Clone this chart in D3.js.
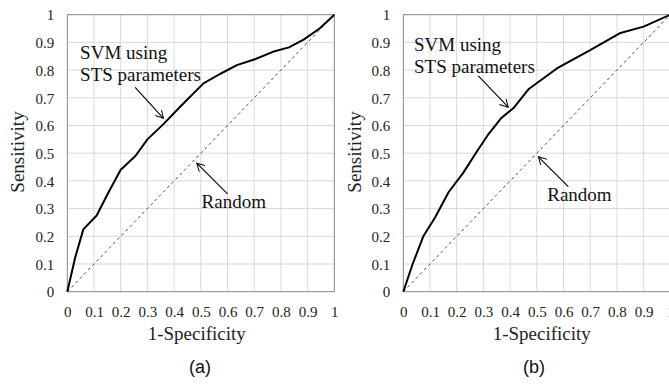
<!DOCTYPE html>
<html>
<head>
<meta charset="utf-8">
<script src="https://cdn.jsdelivr.net/npm/d3@7"></script>
<style>
  body { margin: 0; background: #fff; }
  svg { display: block; }
  .serif { font-family: "Liberation Serif", "DejaVu Serif", "Times New Roman", serif; }
</style>
</head>
<body>
<svg width="669" height="384"></svg>
<script>
// tick values (both axes)
const ticks = [0, 0.1, 0.2, 0.3, 0.4, 0.5, 0.6, 0.7, 0.8, 0.9, 1];

// ROC curve, panel (a): [1-specificity, sensitivity]
const rocA = [
  [0, 0], [0.03, 0.125], [0.06, 0.225], [0.11, 0.275], [0.155, 0.36],
  [0.2, 0.44], [0.255, 0.49], [0.3, 0.55], [0.36, 0.605], [0.43, 0.675],
  [0.51, 0.752], [0.57, 0.785], [0.635, 0.818], [0.7, 0.838], [0.77, 0.866],
  [0.83, 0.882], [0.885, 0.91], [0.945, 0.95], [1, 1]
];

// ROC curve, panel (b)
const rocB = [
  [0, 0], [0.035, 0.1], [0.075, 0.2], [0.12, 0.27], [0.17, 0.36],
  [0.225, 0.43], [0.275, 0.505], [0.32, 0.57], [0.365, 0.625], [0.415, 0.665],
  [0.47, 0.732], [0.575, 0.806], [0.7, 0.872], [0.81, 0.933], [0.9, 0.957],
  [1, 1]
];

// random classifier
const randomLine = [[0, 0], [1, 1]];

const svg = d3.select("svg");

// arrow head (open V)
svg.append("defs").append("marker")
  .attr("id", "arr")
  .attr("viewBox", "0 0 10 10")
  .attr("refX", 9).attr("refY", 5)
  .attr("markerWidth", 9).attr("markerHeight", 9)
  .attr("markerUnits", "userSpaceOnUse")
  .attr("orient", "auto")
  .append("path")
  .attr("d", "M0,0 L9,5 L0,10")
  .attr("fill", "none")
  .attr("stroke", "#000")
  .attr("stroke-width", 1.1);

function drawPanel(p) {
  const x = d3.scaleLinear().domain([0, 1]).range([p.left, p.left + 267]);
  const y = d3.scaleLinear().domain([0, 1]).range([291.7, 14.7]);
  const g = svg.append("g");

  // grid
  g.append("g").selectAll("line").data(ticks.slice(1, -1)).enter().append("line")
    .attr("x1", d => x(d)).attr("x2", d => x(d))
    .attr("y1", y(0)).attr("y2", y(1))
    .attr("stroke", "#d9d9d9").attr("stroke-width", 1);
  g.append("g").selectAll("line").data(ticks.slice(1, -1)).enter().append("line")
    .attr("y1", d => y(d)).attr("y2", d => y(d))
    .attr("x1", x(0)).attr("x2", x(1))
    .attr("stroke", "#d9d9d9").attr("stroke-width", 1);

  // frame
  g.append("rect")
    .attr("x", x(0)).attr("y", y(1))
    .attr("width", x(1) - x(0)).attr("height", y(0) - y(1))
    .attr("fill", "none").attr("stroke", "#868686").attr("stroke-width", 1);

  // axes labels
  const axX = g.append("g")
    .attr("transform", `translate(0,${y(0) + 25})`)
    .call(d3.axisBottom(x).tickValues(ticks).tickFormat(d3.format("")).tickSize(0));
  const axY = g.append("g")
    .attr("transform", `translate(${x(0) - 13},0)`)
    .call(d3.axisLeft(y).tickValues(ticks).tickFormat(d3.format("")).tickSize(0));
  [axX, axY].forEach(a => {
    a.attr("font-family", null).attr("font-size", null).attr("class", "serif");
    a.select(".domain").remove();
    a.selectAll("text").style("font-size", "15px").attr("fill", "#222");
  });
  axX.selectAll("text").attr("dy", "0").attr("y", 0);
  axY.selectAll("text").attr("x", 0).attr("dy", "0.35em");

  g.append("text").attr("class", "serif")
    .attr("x", p.xlabX).attr("y", 340)
    .attr("text-anchor", "middle")
    .style("font-size", "19px").attr("fill", "#222")
    .text("1-Specificity");
  g.append("text").attr("class", "serif")
    .attr("transform", `translate(${p.ylab},152) rotate(-90)`)
    .attr("text-anchor", "middle")
    .style("font-size", "19px").attr("fill", "#222")
    .text("Sensitivity");

  // lines
  const line = d3.line().x(d => x(d[0])).y(d => y(d[1]));
  g.append("path").datum(randomLine).attr("d", line)
    .attr("fill", "none").attr("stroke", "#555").attr("stroke-width", 1)
    .attr("stroke-dasharray", "3,3");
  g.append("path").datum(p.data).attr("d", line)
    .attr("fill", "none").attr("stroke", "#000").attr("stroke-width", 2)
    .attr("stroke-linejoin", "round");

  // annotations
  const t1 = g.append("text").attr("class", "serif")
    .style("font-size", "19px").attr("fill", "#111");
  t1.append("tspan").attr("x", x(p.svmAt[0])).attr("y", y(p.svmAt[1])).text("SVM using");
  t1.append("tspan").attr("x", x(p.svmAt[0])).attr("y", y(p.svmAt[2])).text("STS parameters");
  g.append("text").attr("class", "serif")
    .attr("x", x(p.randAt[0])).attr("y", y(p.randAt[1]))
    .style("font-size", "19px").attr("fill", "#111")
    .text("Random");

  [p.arrow1, p.arrow2].forEach(a => {
    g.append("line")
      .attr("x1", x(a[0])).attr("y1", y(a[1]))
      .attr("x2", x(a[2])).attr("y2", y(a[3]))
      .attr("stroke", "#000").attr("stroke-width", 1.1)
      .attr("marker-end", "url(#arr)");
  });

  g.append("text")
    .attr("x", p.capX).attr("y", 373)
    .attr("text-anchor", "middle")
    .style("font-family", "'Liberation Sans', Arial, sans-serif").style("font-size", "18px")
    .attr("fill", "#111")
    .text(p.caption);
}

drawPanel({
  left: 67.3, ylab: 24, data: rocA, caption: "(a)", xlabX: 196.7, capX: 200,
  svmAt: [0.048, 0.84, 0.76], randAt: [0.503, 0.302],
  arrow1: [0.254, 0.738, 0.36, 0.626], arrow2: [0.6, 0.353, 0.485, 0.464]
});
drawPanel({
  left: 403.3, ylab: 361, data: rocB, caption: "(b)", xlabX: 541.7, capX: 534,
  svmAt: [0.04, 0.869, 0.79], randAt: [0.539, 0.329],
  arrow1: [0.281, 0.779, 0.393, 0.666], arrow2: [0.618, 0.379, 0.506, 0.487]
});
</script>
</body>
</html>
